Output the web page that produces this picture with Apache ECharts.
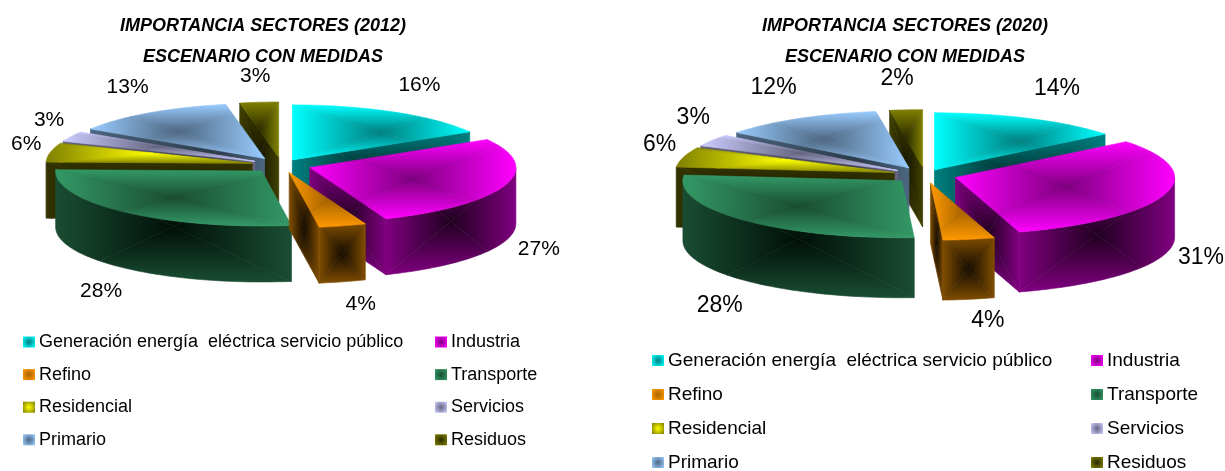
<!DOCTYPE html>
<html><head><meta charset="utf-8">
<style>html,body{margin:0;padding:0;background:#fff}#c{width:1225px;height:471px}</style>
<script src="https://cdn.jsdelivr.net/npm/echarts@6/dist/echarts.min.js"></script>
</head><body><div id="c"></div>
<script>
// ---- data ----
const sectors = ['Generación energía  eléctrica servicio público','Industria','Refino','Transporte','Residencial','Servicios','Primario','Residuos'];
const shares2012 = [16.49,27.49,3.7,27.7,5.6,3.0,13.0,3.02];
const shares2020 = [14.2,31.1,3.8,27.5,5.6,3.4,12.0,2.4];
const titles2012 = 'IMPORTANCIA SECTORES (2012)\nESCENARIO CON MEDIDAS';
const titles2020 = 'IMPORTANCIA SECTORES (2020)\nESCENARIO CON MEDIDAS';

// ---- styles: [top edge, top centre, side edge, side centre] ----
const palette = [
  ['#00ffff','#007f7f','#008080','#002222'],
  ['#ff00ff','#7f007f','#800080','#200020'],
  ['#ff9900','#a86500','#804d00','#140c00'],
  ['#339966','#1a4d33','#1a4d33','#000f08'],
  ['#808000','#ffff00','#333300','#141400'],
  ['#ccccff','#666680','#666680','#1a1a20'],
  ['#99ccff','#4d6680','#4d6680','#141a20'],
  ['#808000','#2a2a00','#404000','#151500']
];
// ---- layout ----
const pie2012 = {cx:281.5,cy:165,rx:206,ry:55,depth:56,explode:[22,30,30,30,30,30,30,30],fs:21,
  nudge:[[25,-27],[34,64],[18,78],[-24,79],[-24,-8],[-22,-16],[-21,-26],[-4,-26]]};
const pie2020 = {cx:925,cy:175,rx:219,ry:57,depth:60,explode:[22,32,32,32,32,32,32,32],fs:23,
  nudge:[[28,-30],[36,63],[19,81],[-24,85],[-24,-13],[-19,-23],[-25,-31],[-9,-31]]};

const FONT = '"Liberation Sans", Arial, sans-serif';
const rad = d => d*Math.PI/180;

function clipHalf(poly,a,b,c){ // keep side of line a-b where c lies
  const side=p=>(b[0]-a[0])*(p[1]-a[1])-(b[1]-a[1])*(p[0]-a[0]);
  const s=Math.sign(side(c)); const out=[];
  for(let i=0;i<poly.length;i++){
    const p=poly[i],q=poly[(i+1)%poly.length];
    const sp=side(p)*s,sq=side(q)*s;
    if(sp>=0) out.push(p);
    if((sp>=0)!==(sq>=0)){const t=sp/(sp-sq);out.push([p[0]+(q[0]-p[0])*t,p[1]+(q[1]-p[1])*t]);}
  }
  return out;
}
function clipTri(poly,t){
  let r=poly;
  for(let i=0;i<3&&r.length;i++) r=clipHalf(r,t[i],t[(i+1)%3],t[(i+2)%3]);
  return r;
}
// rectangular "path" gradient: bright rim to centre of bounding box, drawn as four mitred pieces
function boxFill(poly,edge,centre,z2,outline){
  const xs=poly.map(p=>p[0]),ys=poly.map(p=>p[1]);
  const x0=Math.min(...xs),x1=Math.max(...xs),y0=Math.min(...ys),y1=Math.max(...ys);
  const mx=(x0+x1)/2,my=(y0+y1)/2,m=[mx,my];
  const grad=(ax,ay,bx,by)=>({type:'linear',x:ax,y:ay,x2:bx,y2:by,global:true,
    colorStops:[{offset:0,color:edge},{offset:1,color:centre}]});
  const pieces=[
    [[[x0,y0],[x1,y0],m],grad(mx,y0,mx,my)],
    [[[x1,y0],[x1,y1],m],grad(x1,my,mx,my)],
    [[[x1,y1],[x0,y1],m],grad(mx,y1,mx,my)],
    [[[x0,y1],[x0,y0],m],grad(x0,my,mx,my)]
  ];
  const els=[];
  pieces.forEach(([tri,g])=>{
    const pts=clipTri(poly,tri);
    if(pts.length>2) els.push({type:'polygon',z2,silent:true,shape:{points:pts},style:{fill:g,stroke:g,lineWidth:0.6}});
  });
  if(outline) els.push({type:'polygon',z2,silent:true,shape:{points:poly},style:{fill:'none',stroke:outline,lineWidth:0.7,opacity:0.55}});
  return els;
}
function makeRender(pie,idx){
  return function(params,api){
    const val=api.value(0),start=api.value(1);
    const a=start*3.6,b=(start+val)*3.6,m=(a+b)/2;
    const e=pie.explode[idx],k=pie.ry/pie.rx;
    const ax=pie.cx+e*Math.sin(rad(m)),ay=pie.cy-e*k*Math.cos(rad(m));
    const rim=t=>[ax+pie.rx*Math.sin(rad(t)),ay-pie.ry*Math.cos(rad(t))];
    const down=p=>[p[0],p[1]+pie.depth];
    const arc=(t0,t1)=>{const n=Math.max(2,Math.ceil((t1-t0)/2)),o=[];for(let i=0;i<=n;i++)o.push(rim(t0+(t1-t0)*i/n));return o;};
    const c=palette[idx];
    const base=Math.round((1-Math.cos(rad(m)))*100)*10;
    const kids=[];
    // radial walls
    if(Math.sin(rad(a))<-1e-3){const r=rim(a);kids.push(...boxFill([[ax,ay],r,down(r),[ax,ay+pie.depth]],c[2],c[3],base,c[2]));}
    if(Math.sin(rad(b))>1e-3){const r=rim(b);kids.push(...boxFill([[ax,ay],r,down(r),[ax,ay+pie.depth]],c[2],c[3],base+1,c[2]));}
    // outer wall
    const o0=Math.max(a,90),o1=Math.min(b,270);
    if(o1>o0){const t=arc(o0,o1);kids.push(...boxFill(t.concat(t.slice().reverse().map(down)),c[2],c[3],base+2));}
    // top face
    kids.push(...boxFill([[ax,ay]].concat(arc(a,b)),c[0],c[1],base+3));
    // value label
    const lx=pie.cx+(e+pie.rx)*Math.sin(rad(m))+pie.nudge[idx][0];
    const ly=pie.cy-(e*k+pie.ry)*Math.cos(rad(m))+pie.nudge[idx][1];
    kids.push({type:'text',z2:9000,silent:true,x:lx,y:ly,style:{text:Math.round(val)+'%',fill:'#000',
      font:pie.fs+'px '+FONT,textAlign:'center',textVerticalAlign:'middle'}});
    return {type:'group',children:kids};
  };
}
function seriesFor(pie,shares){
  let acc=0;
  return shares.map((v,i)=>{
    const s={type:'custom',name:sectors[i],coordinateSystem:'none',silent:true,animation:false,clip:false,
      renderItem:makeRender(pie,i),data:[[v,acc]],itemStyle:{color:palette[i][0]}};
    acc+=v;return s;
  });
}
function legendFor(idx,left,top,fs,gap){
  return {show:true,orient:'vertical',left,top,height:135,itemWidth:12,itemHeight:11,itemGap:gap,padding:0,selectedMode:false,
    textStyle:{fontFamily:FONT,fontSize:fs,color:'#000',lineHeight:18,padding:[0,0,0,-1]},
    data:idx.map(i=>({name:sectors[i],icon:'rect',itemStyle:{borderWidth:0,color:{type:'radial',x:.5,y:.5,r:.7,
      colorStops:[{offset:0,color:palette[i][1]},{offset:1,color:palette[i][0]}]}}}))};
}
function titleFor(text,left){
  return {text,left,top:11,textAlign:'center',padding:0,textStyle:{fontFamily:FONT,fontSize:18,fontStyle:'italic',fontWeight:'bold',color:'#000',lineHeight:31}};
}
const chart=echarts.init(document.getElementById('c'),null,{renderer:'canvas'});
chart.setOption({
  animation:false,backgroundColor:'#fff',tooltip:{show:false},
  title:[titleFor(titles2012,263),titleFor(titles2020,905)],
  legend:[legendFor([0,2,4,6],23,333,18,14.6),legendFor([1,3,5,7],435,333,18,14.6),
          legendFor([0,2,4,6],652,351,19,15),legendFor([1,3,5,7],1091,351,19,15)],
  series:seriesFor(pie2012,shares2012).concat(seriesFor(pie2020,shares2020))
});
</script></body></html>
